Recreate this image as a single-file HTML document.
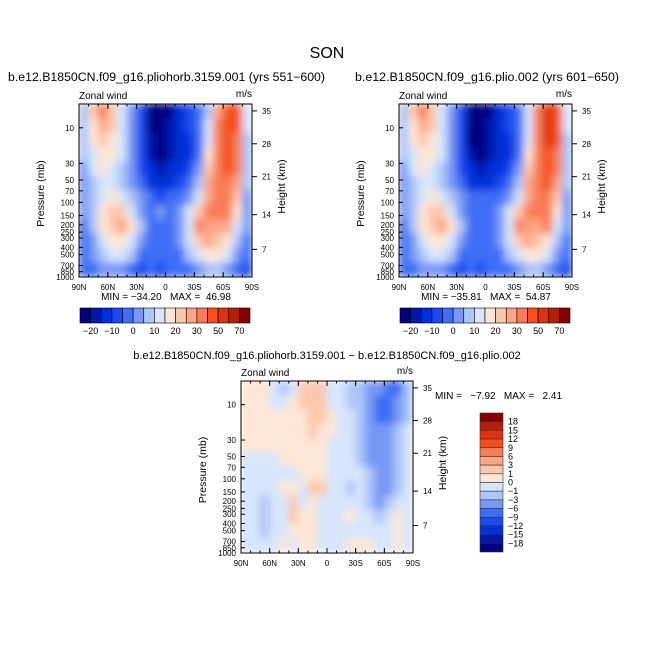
<!DOCTYPE html>
<html><head><meta charset="utf-8"><style>
body{margin:0;background:#fff}
svg{font-family:"Liberation Sans",sans-serif}
text{white-space:pre}
</style></head><body>
<svg id="root" width="654" height="654" viewBox="0 0 654 654" xmlns="http://www.w3.org/2000/svg">
<defs>
<filter id="sm" x="0" y="0" width="1" height="1" filterUnits="objectBoundingBox"><feGaussianBlur stdDeviation="4" edgeMode="duplicate"/></filter>
<clipPath id="c1"><rect x="79" y="104" width="173" height="173"/></clipPath>
<clipPath id="c2"><rect x="399" y="104" width="173" height="173"/></clipPath>
<clipPath id="c3"><rect x="241" y="381" width="172" height="172"/></clipPath>
</defs>
<rect width="654" height="654" fill="#fff"/>
<text x="327" y="58" font-size="16" text-anchor="middle">SON</text>
<text x="8" y="81" font-size="11.5" textLength="317" lengthAdjust="spacingAndGlyphs">b.e12.B1850CN.f09_g16.pliohorb.3159.001 (yrs 551−600)</text>
<text x="355" y="81" font-size="11.5" textLength="264" lengthAdjust="spacingAndGlyphs">b.e12.B1850CN.f09_g16.plio.002 (yrs 601−650)</text>
<text x="327" y="359" font-size="11" text-anchor="middle">b.e12.B1850CN.f09_g16.pliohorb.3159.001 − b.e12.B1850CN.f09_g16.plio.002</text>
<g id="g"></g>
</svg>
<script>
const latLabels=["90N","60N","30N","0","30S","60S","90S"];
const pTicks=[10,30,50,70,100,150,200,250,300,400,500,700,850,1000];
const zTicks=[35,28,21,14,7];
const zTickFrac=[0.04,0.23,0.42,0.64,0.84];
const topLevels=[-20,-15,-10,-5,0,5,10,15,20,25,30,40,50,60,70];
const topLabels=["-20","-10","0","10","20","30","50","70"];
const diffLevels=[-18,-15,-12,-9,-6,-3,-1,0,1,3,6,9,12,15,18];
const diffLabels=["18","15","12","9","6","3","1","0","−1","−3","−6","−9","−12","−15","−18"];
const palette=["#000080","#0019a8","#0030d8","#1a4af0","#3e6ef5","#7799f5","#adc5f8","#d6e5fb","#fde6d5","#fcc8ad","#fba584","#f87c55","#f54f1f","#dd3310","#b3200a","#850000"];
const leftField=[
[7,22,35,22,12,2,-7,-23,-23,-23,-12,-7,-2,7,27,45,45,12],
[7,17,27,22,12,2,-7,-23,-23,-17,-12,-7,-2,12,35,45,45,12],
[7,17,22,17,12,2,-7,-17,-23,-17,-12,-12,-2,12,35,45,35,7],
[7,12,17,17,12,2,-7,-17,-23,-17,-12,-12,-2,17,35,45,35,7],
[2,12,17,12,7,2,-7,-12,-17,-12,-12,-7,2,22,35,45,35,7],
[2,7,12,12,7,2,-2,-12,-12,-12,-7,-2,7,27,35,35,27,7],
[2,7,12,17,12,7,2,-2,-7,-2,-2,2,12,27,35,35,22,2],
[2,7,17,22,22,12,2,-2,2,-2,2,12,22,35,35,35,17,2],
[-2,7,17,22,27,17,7,-2,-2,-2,2,12,35,27,27,27,12,2],
[-2,2,12,17,17,12,2,-2,-2,-2,2,12,22,27,22,17,7,-2],
[-2,2,7,12,12,7,-2,-2,-2,-2,-2,7,12,17,17,12,2,-2],
[-2,-2,2,2,2,-2,-7,-2,-7,-2,-2,-2,2,7,7,2,-2,-7]];
const rightField=[
[7,22,35,22,12,2,-7,-23,-23,-23,-12,-7,-2,12,35,55,45,12],
[7,17,27,22,12,2,-7,-23,-23,-17,-12,-7,-2,12,35,55,45,12],
[7,17,22,17,12,2,-7,-23,-23,-17,-12,-12,-2,12,35,55,45,7],
[7,12,17,17,12,2,-7,-17,-23,-17,-12,-12,-2,17,35,45,35,7],
[2,12,17,12,7,2,-7,-12,-17,-12,-12,-7,2,22,35,45,35,7],
[2,7,12,12,7,2,-2,-12,-12,-12,-7,-2,7,27,35,45,27,7],
[2,7,12,17,12,7,2,-2,-2,-2,-2,2,12,27,35,35,22,2],
[2,7,17,22,22,12,2,-2,-2,-2,2,12,22,35,35,35,17,2],
[-2,7,17,22,27,17,7,-2,-2,-2,2,12,35,27,27,35,12,2],
[-2,2,12,17,17,12,2,-2,-2,-2,2,12,22,27,22,17,7,-2],
[-2,2,7,12,12,7,-2,-2,-2,-2,-2,7,12,17,17,12,2,-2],
[-2,-2,2,2,2,-2,-7,-2,-7,-2,-2,-2,2,7,7,2,-2,-7]];
const diffField=[
[0.5,0.5,0.5,-0.5,-2,-0.5,2,2,2,-0.5,-0.5,-2,-2,-4.5,-4.5,-7.5,-7.5,-2],
[0.5,0.5,0.5,-0.5,-0.5,0.5,2,2,2,-0.5,-0.5,-2,-2,-4.5,-7.5,-7.5,-4.5,-2],
[0.5,0.5,0.5,0.5,0.5,0.5,0.5,2,2,0.5,-0.5,-0.5,-2,-4.5,-7.5,-7.5,-4.5,-2],
[0.5,0.5,0.5,0.5,0.5,0.5,0.5,2,0.5,0.5,-0.5,-0.5,-2,-4.5,-4.5,-4.5,-2,-0.5],
[0.5,0.5,0.5,0.5,0.5,0.5,0.5,0.5,0.5,-0.5,-0.5,-0.5,-2,-4.5,-4.5,-4.5,-2,-0.5],
[-0.5,-0.5,-0.5,-0.5,0.5,0.5,0.5,0.5,0.5,-0.5,-0.5,-0.5,-2,-4.5,-4.5,-4.5,-2,-0.5],
[-0.5,-0.5,-0.5,-0.5,-0.5,-0.5,0.5,0.5,0.5,-0.5,-0.5,-0.5,-0.5,-2,-4.5,-4.5,-2,-0.5],
[-0.5,-0.5,-0.5,-0.5,0.5,0.5,-0.5,2,2,-0.5,-0.5,-2,-0.5,-2,-4.5,-4.5,-2,-0.5],
[-0.5,-0.5,-2,-0.5,-0.5,2,-0.5,0.5,-0.5,-0.5,-0.5,-0.5,-0.5,-2,-4.5,-2,-0.5,-0.5],
[-0.5,-0.5,-2,-0.5,-0.5,2,0.5,0.5,-0.5,-0.5,-0.5,0.5,-0.5,-0.5,-2,-0.5,0.5,-0.5],
[-0.5,-0.5,-2,-0.5,-0.5,0.5,0.5,0.5,-0.5,-0.5,-0.5,-0.5,-0.5,-0.5,-0.5,-0.5,0.5,-0.5],
[-0.5,-0.5,-0.5,-0.5,0.5,-0.5,0.5,0.5,-0.5,-0.5,-0.5,0.5,0.5,0.5,-0.5,-0.5,0.5,-0.5]];

const NS="http://www.w3.org/2000/svg";
const root=document.getElementById('g');
function mk(tag,attrs,parent){const e=document.createElementNS(NS,tag);for(const k in attrs)e.setAttribute(k,attrs[k]);(parent||root).appendChild(e);return e;}
function colorFor(v,levels){let i=0;while(i<levels.length&&v>=levels[i])i++;return palette[i];}
function yP(p,y0,h){const top=Math.log10(4.8),bot=3;return y0+h*(Math.log10(p)-top)/(bot-top);}

function panel(px,py,w,h,field,levels,clip,name,minmax,mmx,mmy,mmAnchor){
  const grp=mk('g',{'clip-path':'url(#'+clip+')'});
  
  
  const inner=mk('g',{filter:'url(#sm)'},grp);
  const rows=field.length,cols=field[0].length;
  const cw=w/cols,ch=h/rows;
  for(let r=0;r<rows;r++)for(let c=0;c<cols;c++){
    const e=mk('rect',{x:px+c*cw-0.3,y:py+r*ch-0.3,width:cw+0.6,height:ch+0.6,fill:colorFor(field[r][c],levels)},inner);
    
    
  }
  const fr=mk('rect',{x:px,y:py,width:w,height:h,fill:'none',stroke:'#000','stroke-width':1});
  
  
  latLabels.forEach((l,i)=>{
    const x=px+w*i/6;
    mk('line',{x1:x,x2:x,y1:py+h,y2:py+h-5,stroke:'#000'});
    mk('line',{x1:x,x2:x,y1:py,y2:py+5,stroke:'#000'});
    const t=mk('text',{x:x,y:py+h+13,'font-size':8,'text-anchor':'middle'});t.textContent=l;
    
    
  });
  for(let i=0;i<18;i++){const x=px+w*i/18;mk('line',{x1:x,x2:x,y1:py+h,y2:py+h-2.5,stroke:'#000'});mk('line',{x1:x,x2:x,y1:py,y2:py+2.5,stroke:'#000'});}
  pTicks.forEach(p=>{
    const y=yP(p,py,h);
    mk('line',{x1:px,x2:px+4,y1:y,y2:y,stroke:'#000'});
    const t=mk('text',{x:px-5,y:y+3,'font-size':8,'text-anchor':'end'});t.textContent=p;
    
    
  });
  zTicks.forEach((z,i)=>{
    const y=py+h*zTickFrac[i];
    mk('line',{x1:px+w,x2:px+w+5,y1:y,y2:y,stroke:'#000'});
    const t=mk('text',{x:px+w+10,y:y+3,'font-size':8});t.textContent=z;
    
    
  });
  let t=mk('text',{x:px,y:py-5,'font-size':10});t.textContent='Zonal wind';
  
  
  t=mk('text',{x:px+w,y:py-7,'font-size':10,'text-anchor':'end'});t.textContent='m/s';
  
  
  t=mk('text',{x:0,y:0,'font-size':10.5,'text-anchor':'middle',transform:`translate(${px-35},${py+h/2+3}) rotate(-90)`});t.textContent='Pressure (mb)';
  
  
  t=mk('text',{x:0,y:0,'font-size':10.5,'text-anchor':'middle',transform:`translate(${px+w+33},${py+h/2-4}) rotate(-90)`});t.textContent='Height (km)';
  
  
  t=mk('text',{x:mmx,y:mmy,'font-size':10,'text-anchor':mmAnchor});t.textContent=minmax;
  
  
}
panel(79,104,173,173,leftField,topLevels,'c1','left-panel','MIN = −34.20   MAX =  46.98',166,300,'middle');
panel(399,104,173,173,rightField,topLevels,'c2','right-panel','MIN = −35.81   MAX =  54.87',486,300,'middle');
panel(241,381,172,172,diffField,diffLevels,'c3','diff-panel','MIN =   −7.92   MAX =   2.41',435,399,'start');

function hbar(x0,y0,w,h,name){
  const bw=w/16;
  palette.forEach((c,i)=>{
    const e=mk('rect',{x:x0+i*bw,y:y0,width:bw,height:h,fill:c,stroke:'#000','stroke-width':0.6});
    
    
  });
  topLabels.forEach((l,i)=>{
    const t=mk('text',{x:x0+bw*(1+2*i),y:y0+h+11,'font-size':9,'text-anchor':'middle'});t.textContent=l.replace('-','−');
    
    
  });
}
hbar(80,308,170,15,'left-colorbar');
hbar(400,308,170,15,'right-colorbar');
(function(){
  const x0=480,y0=413,w=23,h=139,bh=h/16;
  palette.slice().reverse().forEach((c,i)=>{
    const e=mk('rect',{x:x0,y:y0+i*bh,width:w,height:bh,fill:c,stroke:'#333','stroke-width':0.6});
    
    
  });
  diffLabels.forEach((l,i)=>{
    const t=mk('text',{x:x0+w+5,y:y0+bh*(i+1)+3,'font-size':9});t.textContent=l;
    
    
  });
})();
</script>
</body></html>
